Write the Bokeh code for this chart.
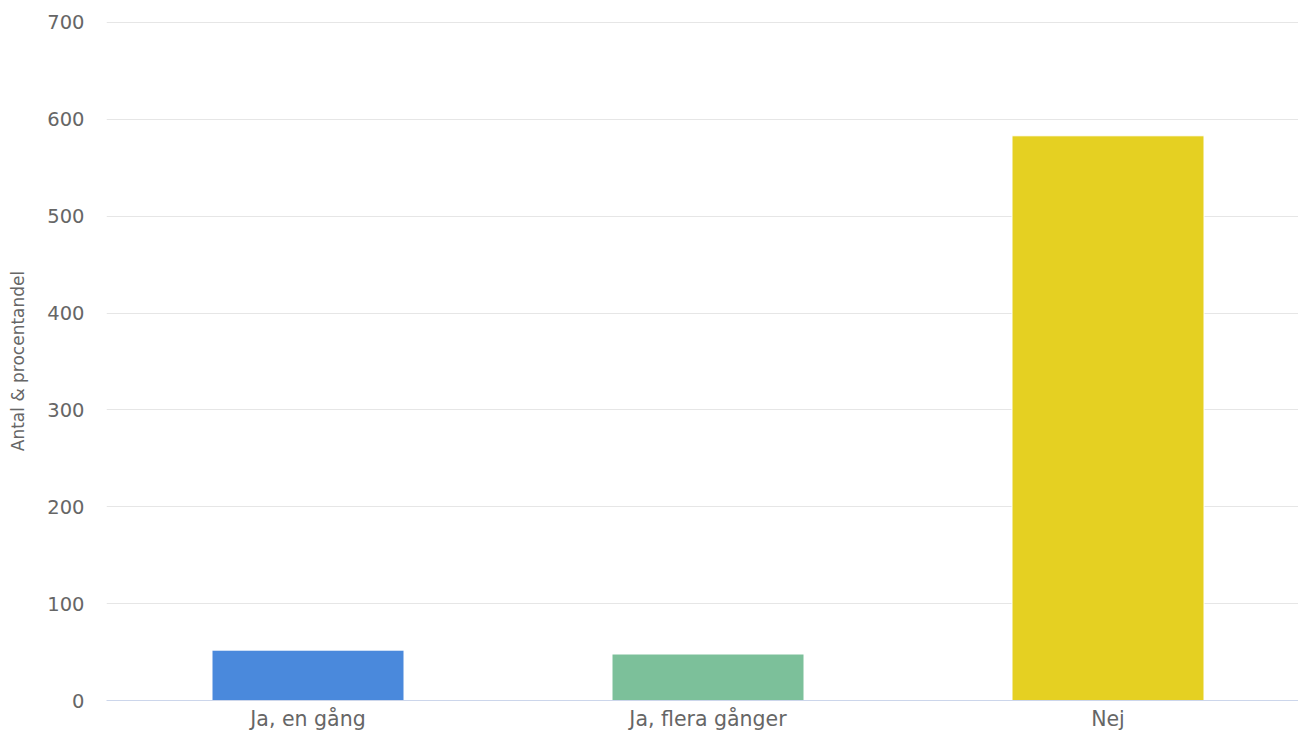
from bokeh.plotting import figure
from bokeh.models import ColumnDataSource, Range1d, FixedTicker
from bokeh.embed import file_html
from bokeh.resources import INLINE

categories = ["Ja, en gång", "Ja, flera gånger", "Nej"]
values = [52, 48, 583]
colors = ["#4a89dc", "#7cc09a", "#e5d022"]
y_ticks = [0, 100, 200, 300, 400, 500, 600, 700]

xs = list(range(len(categories)))
src = ColumnDataSource(dict(x=xs, top=values, color=colors, cat=categories))

p = figure(frame_width=1192, frame_height=679, output_backend="svg", toolbar_location=None,
           x_range=Range1d(-0.50375, 2.47625), y_range=Range1d(0, 701),
           min_border_left=106, min_border_right=0, min_border_top=21, min_border_bottom=34)
p.vbar(x="x", top="top", bottom=0, width=0.48, fill_color="color", line_color="white",
       line_width=1, source=src)

p.outline_line_color = None
p.background_fill_color = "white"
p.border_fill_color = "white"
p.xgrid.grid_line_color = None
p.ygrid.grid_line_color = "#e6e6e6"
p.ygrid.ticker = FixedTicker(ticks=y_ticks)

xa = p.xaxis[0]
xa.ticker = FixedTicker(ticks=xs)
xa.major_label_overrides = {i: c for i, c in zip(xs, categories)}
xa.axis_line_color = "#ccd6eb"
xa.major_tick_line_color = None
xa.minor_tick_line_color = None
xa.major_tick_out = 0
xa.major_label_standoff = 6
xa.major_label_text_font = "DejaVu Sans"
xa.major_label_text_font_size = "20.5px"
xa.major_label_text_color = "#666666"

ya = p.yaxis[0]
ya.ticker = FixedTicker(ticks=y_ticks)
ya.axis_line_color = None
ya.major_tick_line_color = None
ya.minor_tick_line_color = None
ya.major_tick_out = 0
ya.major_label_standoff = 22
ya.major_label_text_font = "DejaVu Sans"
ya.major_label_text_font_size = "19.5px"
ya.major_label_text_color = "#666666"
ya.axis_label = "Antal & procentandel"
ya.axis_label_text_font = "DejaVu Sans"
ya.axis_label_text_font_size = "17px"
ya.axis_label_text_font_style = "normal"
ya.axis_label_text_color = "#666666"
ya.axis_label_standoff = 16

open("out.html", "w").write(file_html(p, INLINE))
